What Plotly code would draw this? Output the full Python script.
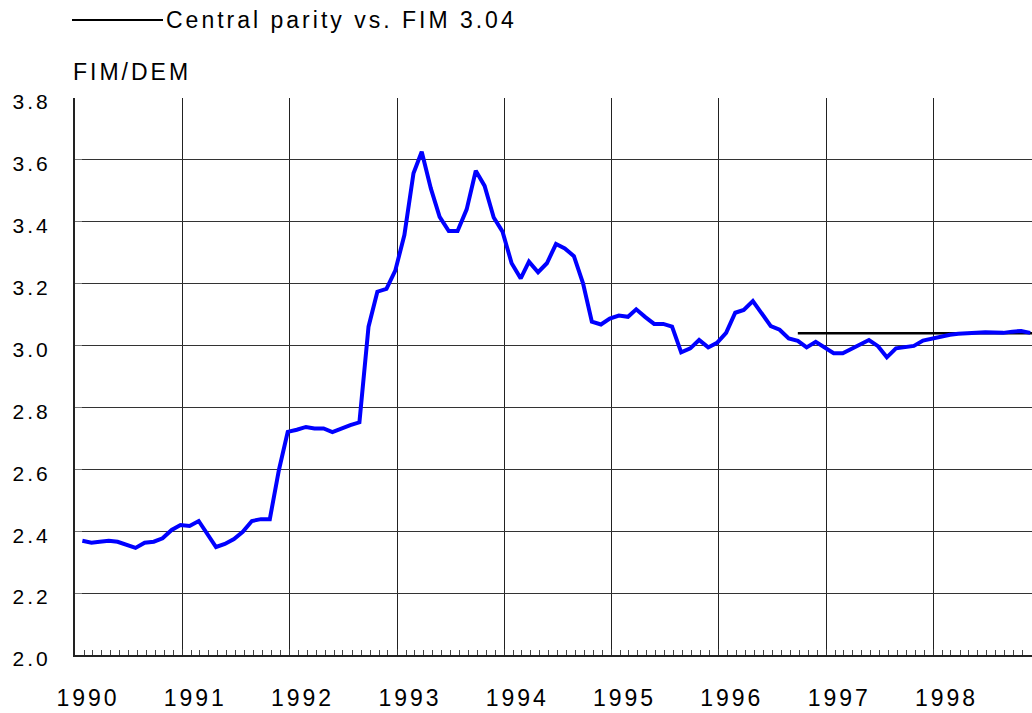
import pandas as pd
import plotly.graph_objects as go

# Monthly FIM/DEM exchange rate, Jan 1990 - Nov 1998
fim_dem = [
    2.369, 2.363, 2.366, 2.369, 2.366, 2.355, 2.346, 2.363, 2.366, 2.377, 2.404, 2.420,  # 1990
    2.417, 2.433, 2.391, 2.349, 2.359, 2.375, 2.398, 2.433, 2.439, 2.439, 2.598, 2.721,  # 1991
    2.728, 2.737, 2.732, 2.732, 2.720, 2.732, 2.743, 2.752, 3.061, 3.174, 3.183, 3.242,  # 1992
    3.357, 3.557, 3.626, 3.508, 3.416, 3.370, 3.370, 3.440, 3.565, 3.516, 3.414, 3.368,  # 1993
    3.266, 3.217, 3.271, 3.237, 3.266, 3.328, 3.314, 3.289, 3.201, 3.077, 3.068, 3.087,  # 1994
    3.097, 3.093, 3.117, 3.092, 3.070, 3.070, 3.061, 2.978, 2.991, 3.018, 2.994, 3.009,  # 1995
    3.041, 3.106, 3.115, 3.144, 3.106, 3.063, 3.051, 3.023, 3.015, 2.994, 3.012, 2.993,  # 1996
    2.975, 2.975, 2.989, 3.002, 3.018, 2.998, 2.962, 2.991, 2.996, 2.999, 3.016, 3.023,  # 1997
    3.031, 3.035, 3.038, 3.040, 3.042, 3.043, 3.042, 3.041, 3.045, 3.047, 3.041,         # 1998
]
dates = pd.date_range("1990-01-01", periods=len(fim_dem), freq="MS") + pd.Timedelta(days=25)

parity_dates = ["1996-09-26", "1998-12-05"]
parity_vals = [3.04, 3.04]

year_ticks = [f"{y}-01-01" for y in range(1990, 1999)]
year_labels = [str(y) for y in range(1990, 1999)]
y_ticks = [2.0, 2.2, 2.4, 2.6, 2.8, 3.0, 3.2, 3.4, 3.6, 3.8]

legend_text = "Central parity vs. FIM 3.04"
y_title = "FIM/DEM"

FONT = "Liberation Sans, Arial, sans-serif"

fig = go.Figure()
fig.add_trace(go.Scatter(x=parity_dates, y=parity_vals, mode="lines",
                         line=dict(color="black", width=2.5), showlegend=False,
                         hoverinfo="skip"))
fig.add_trace(go.Scatter(x=dates, y=fim_dem, mode="lines",
                         line=dict(color="#0000FF", width=4), showlegend=False))

fig.update_layout(
    width=1032, height=713,
    margin=dict(l=75, r=0, t=98, b=58),
    paper_bgcolor="white", plot_bgcolor="white",
    font=dict(family=FONT, size=23, color="black"),
    showlegend=False,
)
fig.update_xaxes(
    type="date",
    range=["1990-01-01", "1998-12-02"],
    tickvals=year_ticks, ticktext=year_labels,
    showgrid=True, gridcolor="#222", gridwidth=1,
    showline=True, linecolor="#222", linewidth=2,
    ticks="inside", ticklen=6, tickcolor="#333",
    minor=dict(dtick="M1", ticks="inside", ticklen=5, tickcolor="#444", showgrid=False),
    ticklabelshift=13, ticklabelstandoff=21,
    tickfont=dict(size=23, family=FONT),
    zeroline=False,
)
fig.update_yaxes(
    range=[2.0, 3.8],
    tickvals=y_ticks, ticktext=[f"{v:.1f}" for v in y_ticks],
    showgrid=True, gridcolor="#333", gridwidth=1,
    showline=True, linecolor="#222", linewidth=2,
    ticks="inside", ticklen=7, tickcolor="#777",
    ticklabelstandoff=18, ticklabelshift=4,
    tickfont=dict(size=21, family=FONT),
    zeroline=False,
)

# legend-like entry at top
ly = 1 + (98 - 20) / 557
fig.add_shape(type="line", xref="paper", yref="paper",
              x0=-3 / 957, x1=88 / 957, y0=ly, y1=ly,
              line=dict(color="black", width=2))
fig.add_annotation(text=legend_text, xref="paper", yref="paper",
                   x=89 / 957, y=ly, xanchor="left", yanchor="middle",
                   width=420, align="left",
                   showarrow=False, font=dict(size=23, family=FONT))
fig.add_annotation(text=y_title, xref="paper", yref="paper",
                   x=-4 / 957, y=1 + (98 - 72) / 557, xanchor="left", yanchor="middle",
                   width=200, align="left",
                   showarrow=False, font=dict(size=23, family=FONT))

post = (
    "document.body.style.margin='0';"
    "document.documentElement.style.overflow='hidden';"
    "document.querySelectorAll('.main-svg text').forEach(function(t){t.style.letterSpacing='3px';});"
)
fig.write_html("out.html", post_script=post, config={"displayModeBar": False})
